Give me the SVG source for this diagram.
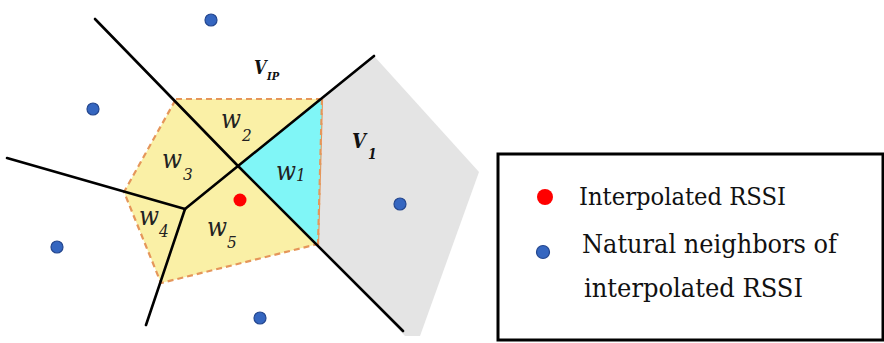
<svg xmlns="http://www.w3.org/2000/svg" width="884" height="343" viewBox="0 0 884 343">
<style>
.edge{stroke:#000;stroke-width:2.6;fill:none;stroke-linecap:round}
.dash{stroke:#e5965a;stroke-width:2.2;stroke-dasharray:6 4}
.nb{fill:#3566c0;stroke:#24478f;stroke-width:1.2}
.ip{fill:#ff0000}
.w{font-style:italic;font-size:26px;fill:#222}
.ws{font-style:italic;font-size:17px;fill:#222}
.v{font-style:italic;font-weight:bold;fill:#111}
.leg{fill:#111}
</style>
<rect width="884" height="343" fill="#fff"/>
<g id="cell-v1">
<polygon points="374,56 479,172 420,336 405,336 318,244 322,99" fill="#e4e4e4"/>
</g>
<g id="cell-vip">
<polygon class="dash" points="176,99 322,99 318,244 161,283 124,192" fill="#faf0a6"/>
<polygon points="238,166 322,99 318,244" fill="#80f6f7"/>
<line class="dash" x1="322" y1="99" x2="318" y2="244"/>
</g>
<g id="connectors">
<line class="edge" x1="95" y1="19" x2="238" y2="166"/>
<line class="edge" x1="238" y1="166" x2="374" y2="56"/>
<line class="edge" x1="238" y1="166" x2="403" y2="331"/>
<line class="edge" x1="238" y1="166" x2="185" y2="209"/>
<line class="edge" x1="7" y1="158" x2="185" y2="209"/>
<line class="edge" x1="185" y1="209" x2="146" y2="325"/>
</g>
<g id="points">
<circle class="nb" cx="211" cy="20" r="6"/>
<circle class="nb" cx="93" cy="109" r="6"/>
<circle class="nb" cx="57" cy="247" r="6"/>
<circle class="nb" cx="260" cy="318" r="6"/>
<circle class="nb" cx="400" cy="204" r="6"/>
<circle class="ip" cx="240" cy="200" r="6.5"/>
</g>
<g id="labels" font-family="DejaVu Serif" font-stretch="condensed">
<text class="v" x="254" y="74" font-size="18">V</text>
<text class="v" x="267" y="80" font-size="11">IP</text>
<text class="v" x="352" y="148" font-size="20">V</text>
<text class="v" x="368" y="159" font-size="14">1</text>
<text class="w" x="276" y="180">w</text><text class="ws" x="296" y="181" font-size="19">1</text>
<text class="w" x="221" y="128">w</text><text class="ws" x="242" y="141">2</text>
<text class="w" x="162" y="168">w</text><text class="ws" x="183" y="180">3</text>
<text class="w" x="139" y="225">w</text><text class="ws" x="159" y="237">4</text>
<text class="w" x="207" y="236">w</text><text class="ws" x="227" y="248">5</text>
</g>
<g id="legend" font-family="DejaVu Serif" font-stretch="condensed">
<rect x="498" y="154" width="385" height="186" fill="#fff" stroke="#000" stroke-width="3"/>
<circle class="ip" cx="545" cy="197" r="8"/>
<circle class="nb" cx="543" cy="252" r="6.5"/>
<text class="leg" x="579" y="205" font-size="25" textLength="207" lengthAdjust="spacingAndGlyphs">Interpolated RSSI</text>
<text class="leg" x="582" y="253" font-size="26" textLength="255" lengthAdjust="spacingAndGlyphs">Natural neighbors of</text>
<text class="leg" x="584" y="297" font-size="26" textLength="219" lengthAdjust="spacingAndGlyphs">interpolated RSSI</text>
</g>
</svg>
